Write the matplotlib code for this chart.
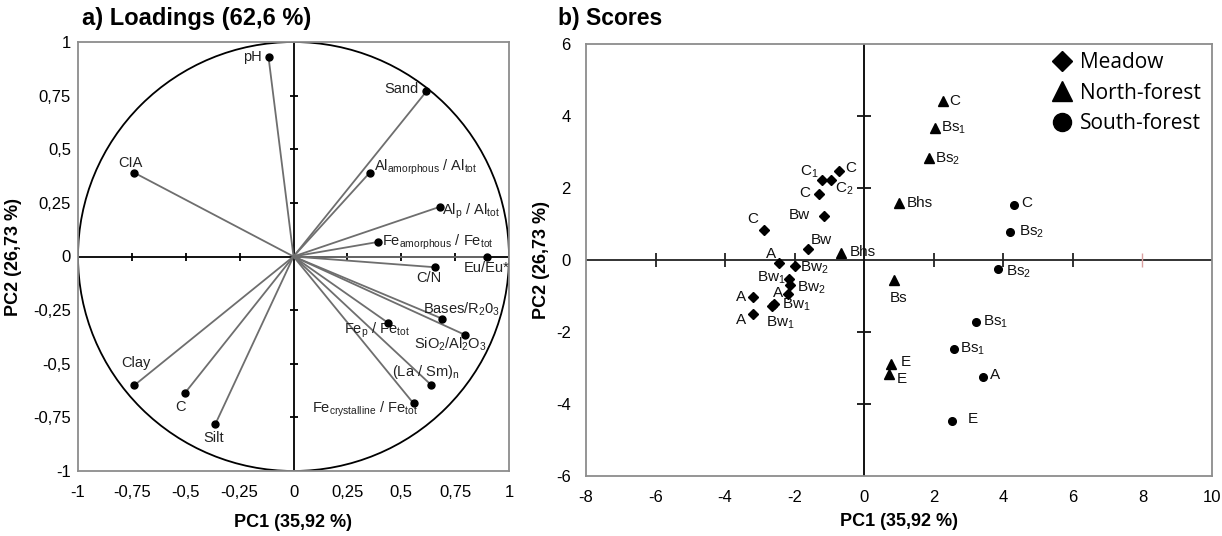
import matplotlib
matplotlib.use("Agg")
import matplotlib.pyplot as plt
from matplotlib.patches import Circle
from matplotlib.lines import Line2D

plt.rcParams['font.family'] = ['Liberation Sans', 'DejaVu Sans']
plt.rcParams['mathtext.fontset'] = 'custom'
plt.rcParams['mathtext.rm'] = 'Liberation Sans'
plt.rcParams['mathtext.it'] = 'Liberation Sans'
plt.rcParams['axes.unicode_minus'] = False

# ---- a) loadings ----
load_names = ['pH', 'Sand', 'CIA', 'Al$_\\mathregular{amorphous}$ / Al$_\\mathregular{tot}$',
              'Al$_\\mathregular{p}$ / Al$_\\mathregular{tot}$',
              'Fe$_\\mathregular{amorphous}$ / Fe$_\\mathregular{tot}$', 'Eu/Eu*', 'C/N',
              'Bases/R$_\\mathregular{2}$0$_\\mathregular{3}$',
              'SiO$_\\mathregular{2}$/Al$_\\mathregular{2}$O$_\\mathregular{3}$',
              'Fe$_\\mathregular{p}$ / Fe$_\\mathregular{tot}$', '(La / Sm)$_\\mathregular{n}$',
              'Fe$_\\mathregular{crystalline}$ / Fe$_\\mathregular{tot}$', 'Clay', 'C', 'Silt']
load_pc1 = [-0.116, 0.617, -0.738, 0.353, 0.68, 0.393, 0.90, 0.655, 0.69, 0.795,
            0.44, 0.64, 0.557, -0.738, -0.505, -0.362]
load_pc2 = [0.93, 0.77, 0.39, 0.39, 0.232, 0.068, 0.0, -0.05, -0.29, -0.365,
            -0.31, -0.60, -0.685, -0.60, -0.638, -0.78]

# ---- b) scores ----
meadow_labels = ['C', 'C$_\\mathregular{2}$', 'C$_\\mathregular{1}$', 'C', 'Bw', 'C', 'Bw', 'A',
                 'Bw$_\\mathregular{2}$', 'Bw$_\\mathregular{1}$', 'Bw$_\\mathregular{2}$', 'A', 'A',
                 'Bw$_\\mathregular{1}$', 'Bw$_\\mathregular{1}$', 'A']
meadow_pc1 = [-0.72, -0.95, -1.20, -1.29, -1.17, -2.89, -1.63, -2.46, -2.00, -2.17,
              -2.12, -2.20, -3.20, -2.60, -2.66, -3.20]
meadow_pc2 = [2.46, 2.21, 2.21, 1.82, 1.23, 0.84, 0.31, -0.08, -0.17, -0.53,
              -0.70, -0.95, -1.03, -1.23, -1.28, -1.50]

north_labels = ['C', 'Bs$_\\mathregular{1}$', 'Bs$_\\mathregular{2}$', 'Bhs', 'Bhs', 'Bs', 'E', 'E']
north_pc1 = [2.26, 2.03, 1.86, 1.00, -0.66, 0.86, 0.77, 0.72]
north_pc2 = [4.41, 3.66, 2.82, 1.59, 0.20, -0.56, -2.88, -3.16]

south_labels = ['C', 'Bs$_\\mathregular{2}$', 'Bs$_\\mathregular{2}$', 'Bs$_\\mathregular{1}$',
                'Bs$_\\mathregular{1}$', 'A', 'E']
south_pc1 = [4.30, 4.18, 3.84, 3.20, 2.58, 3.41, 2.52]
south_pc2 = [1.54, 0.78, -0.25, -1.73, -2.48, -3.24, -4.47]

left_ticks = [-1, -0.75, -0.5, -0.25, 0, 0.25, 0.5, 0.75, 1]
left_ticklabels = ['-1', '-0,75', '-0,5', '-0,25', '0', '0,25', '0,5', '0,75', '1']
right_xticks = [-8, -6, -4, -2, 0, 2, 4, 6, 8, 10]
right_yticks = [-6, -4, -2, 0, 2, 4, 6]

# label placement (pixel offsets dx, dy, ha)
load_lab = [(-7, 0, 'right'), (-8, 2, 'right'), (-4, 10, 'center'), (4, 5, 'left'),
            (2, -5, 'left'), (4, 0, 'left'), (-1, -12, 'center'), (-6, -11, 'center'),
            (19, 9, 'center'), (-14, -10, 'center'), (-11, -7, 'center'), (-6, 13, 'center'),
            (4, -6, 'right'), (1, 22, 'center'), (-4, -14, 'center'), (-2, -14, 'center')]
meadow_lab = [(6, 3, 'left'), (4, -8, 'left'), (-4, 9, 'right'), (-9, 1, 'right'),
              (-14, 1, 'right'), (-5, 11, 'right'), (3, 9, 'left'), (-3, 9, 'right'),
              (5, -2, 'left'), (-3, 1, 'right'), (7, -3, 'left'), (-5, 1, 'right'),
              (-7, 0, 'right'), (8, -1, 'left'), (9, -17, 'center'), (-7, -6, 'right')]
north_lab = [(6, 0, 'left'), (6, 0, 'left'), (6, 0, 'left'), (8, 0, 'left'),
             (8, 1, 'left'), (4, -18, 'center'), (10, 2, 'left'), (7, -5, 'left')]
south_lab = [(7, 2, 'left'), (9, 0, 'left'), (8, -3, 'left'), (7, 0, 'left'),
             (6, 0, 'left'), (7, 2, 'left'), (16, 2, 'left')]

frame_col = '#8c8c8c'

fig = plt.figure(figsize=(12.22, 5.36), dpi=100)
ax1 = fig.add_axes([78 / 1222, 65 / 536, 431 / 1222, 429 / 536])
ax2 = fig.add_axes([586 / 1222, 60 / 536, 626 / 1222, 432 / 536])

for ax in (ax1, ax2):
    for sp in ax.spines.values():
        sp.set_color(frame_col)
        sp.set_linewidth(1.3)
ax1.tick_params(length=0, labelsize=12)
ax1.tick_params(axis='x', pad=10)
ax1.tick_params(axis='y', pad=5)
ax2.tick_params(length=0, labelsize=12)
ax2.tick_params(axis='x', pad=10)
ax2.tick_params(axis='y', pad=11)

# left panel
ax1.set_xlim(-1, 1)
ax1.set_ylim(-1, 1)
ax1.add_patch(Circle((0, 0), 1, fill=False, color='black', lw=1.3, zorder=2))
ax1.axhline(0, color='black', lw=1.3, zorder=1)
ax1.axvline(0, color='black', lw=1.3, zorder=1)
inner = [t for t in left_ticks if t not in (-1, 0, 1)]
ax1.plot(inner, [0] * len(inner), ls='none', marker='|', ms=6, mew=1.3, color='black')
ax1.plot([0] * len(inner), inner, ls='none', marker='_', ms=6, mew=1.3, color='black')
for x, y in zip(load_pc1, load_pc2):
    ax1.plot([0, x], [0, y], color='#6e6e6e', lw=1.3, zorder=3)
ax1.plot(load_pc1, load_pc2, 'o', color='black', ms=5, zorder=4)
for name, x, y, (dx, dy, ha) in zip(load_names, load_pc1, load_pc2, load_lab):
    ax1.annotate(name, (x, y), xytext=(dx, dy), textcoords='offset pixels',
                 ha=ha, va='center', fontsize=10.5, color='#222222')
ax1.set_xticks(left_ticks)
ax1.set_xticklabels(left_ticklabels)
ax1.set_yticks(left_ticks)
ax1.set_yticklabels(left_ticklabels)
ax1.set_xlabel('PC1 (35,92 %)', fontsize=13, fontweight='bold', labelpad=10)
ax1.set_ylabel('PC2 (26,73 %)', fontsize=13, fontweight='bold', labelpad=8)

# right panel
ax2.set_xlim(-8, 10)
ax2.set_ylim(-6, 6)
ax2.axhline(0, color='#333333', lw=1.4, zorder=1)
ax2.axvline(0, color='#111111', lw=1.4, zorder=1)
hx = [-6, -4, -2, 2, 4, 6]
ax2.plot(hx, [0] * len(hx), ls='none', marker='|', ms=10, mew=1.3, color='#222222')
ax2.plot([8], [0], ls='none', marker='|', ms=10, mew=1.0, color='#d9a0a0')
vy = [-4, -2, 2, 4]
ax2.plot([0] * len(vy), vy, ls='none', marker='_', ms=10, mew=1.3, color='#111111')

ax2.plot(meadow_pc1, meadow_pc2, 'D', color='black', ms=5.5, zorder=4)
ax2.plot(north_pc1, north_pc2, '^', color='black', ms=7.5, zorder=4)
ax2.plot(south_pc1, south_pc2, 'o', color='black', ms=5.5, zorder=4)
for labs, xs, ys, pos in ((meadow_labels, meadow_pc1, meadow_pc2, meadow_lab),
                          (north_labels, north_pc1, north_pc2, north_lab),
                          (south_labels, south_pc1, south_pc2, south_lab)):
    for name, x, y, (dx, dy, ha) in zip(labs, xs, ys, pos):
        ax2.annotate(name, (x, y), xytext=(dx, dy), textcoords='offset pixels',
                     ha=ha, va='center', fontsize=11, color='#111111')

ax2.set_xticks(right_xticks)
ax2.set_yticks(right_yticks)
ax2.set_xlabel('PC1 (35,92 %)', fontsize=13, fontweight='bold', labelpad=6)
ax2.set_ylabel('PC2 (26,73 %)', fontsize=13, fontweight='bold', labelpad=4)

handles = [Line2D([], [], ls='none', marker='D', color='black', ms=10),
           Line2D([], [], ls='none', marker='^', color='black', ms=14),
           Line2D([], [], ls='none', marker='o', color='black', ms=13)]
ax2.legend(handles, ['Meadow', 'North-forest', 'South-forest'], loc='upper right',
           bbox_to_anchor=(0.995, 1.0), frameon=False, handlelength=0.8, handletextpad=0.45,
           labelspacing=0.45, borderaxespad=0.0,
           prop={'family': ['Open Sans', 'DejaVu Sans'], 'size': 15})

fig.text(82 / 1222, 1 - 18 / 536, 'a) Loadings (62,6 %)', fontsize=17, fontweight='bold',
         ha='left', va='center')
fig.text(558 / 1222, 1 - 18 / 536, 'b) Scores', fontsize=16.5, fontweight='bold',
         ha='left', va='center')

fig.savefig('out.png', dpi=100, facecolor='white')
